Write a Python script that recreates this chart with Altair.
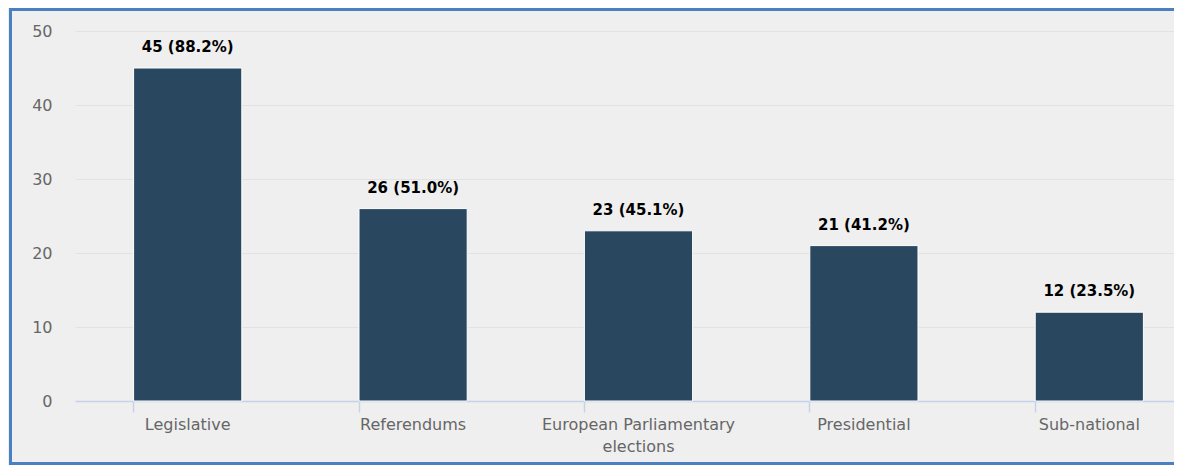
import altair as alt
import pandas as pd

categories = ["Legislative", "Referendums", "European Parliamentary elections", "Presidential", "Sub-national"]
counts = [45, 26, 23, 21, 12]
percents = [88.2, 51.0, 45.1, 41.2, 23.5]

df = pd.DataFrame({
    "category": categories,
    "count": counts,
    "label": [f"{c} ({p:.1f}%)" for c, p in zip(counts, percents)],
})

FONT = "DejaVu Sans"

frame = alt.Chart(alt.Data(values=[{"k": 1}])).mark_rect(
    fill="#efefef", fillOpacity=0, stroke="#4a7fc1", strokeWidth=3
).encode(
    x=alt.value(-64.5), x2=alt.value(1101), y=alt.value(-21.5), y2=alt.value(432.5)
)

x = alt.X(
    "category:N", sort=categories, title=None,
    scale=alt.Scale(paddingInner=0.52, paddingOuter=0.26, range=[0, 1127]),
    axis=alt.Axis(
        labelAngle=0, bandPosition=0, tickSize=11, tickColor="#c4d2ea", tickWidth=1.5,
        domainColor="#c4d2ea", domainWidth=1.5, labelColor="#666666", labelFont=FONT,
        labelFontSize=16, labelPadding=4, labelOverlap=False, labelLimit=400,
        labelLineHeight=22, grid=False,
        labelExpr="datum.label == 'European Parliamentary elections' ? ['European Parliamentary', 'elections'] : datum.label",
    ),
)
y = alt.Y(
    "count:Q", title=None,
    scale=alt.Scale(domain=[0, 50], nice=False),
    axis=alt.Axis(
        values=[0, 10, 20, 30, 40, 50], domain=False, ticks=False,
        labelPadding=23, labelColor="#666666", labelFont=FONT, labelFontSize=16,
        gridColor="#e2e2e2", gridWidth=1,
    ),
)

bars = alt.Chart(df).mark_bar(color="#2a4760", stroke="white", strokeWidth=1).encode(x=x, y=y)
text = alt.Chart(df).mark_text(
    font=FONT, fontSize=15, fontWeight="bold", color="#000000", baseline="alphabetic", dy=-16
).encode(x=alt.X("category:N", sort=categories), y="count:Q", text="label:N")

chart = alt.layer(bars, text, frame).properties(
    width=1099, height=370,
    autosize=alt.AutoSizeParams(type="none"),
    padding={"left": 67, "top": 23, "right": 0, "bottom": 64},
    background="#efefef",
).configure_view(stroke=None)

chart.save("out.html", embed_options={"renderer": "svg", "actions": False})
